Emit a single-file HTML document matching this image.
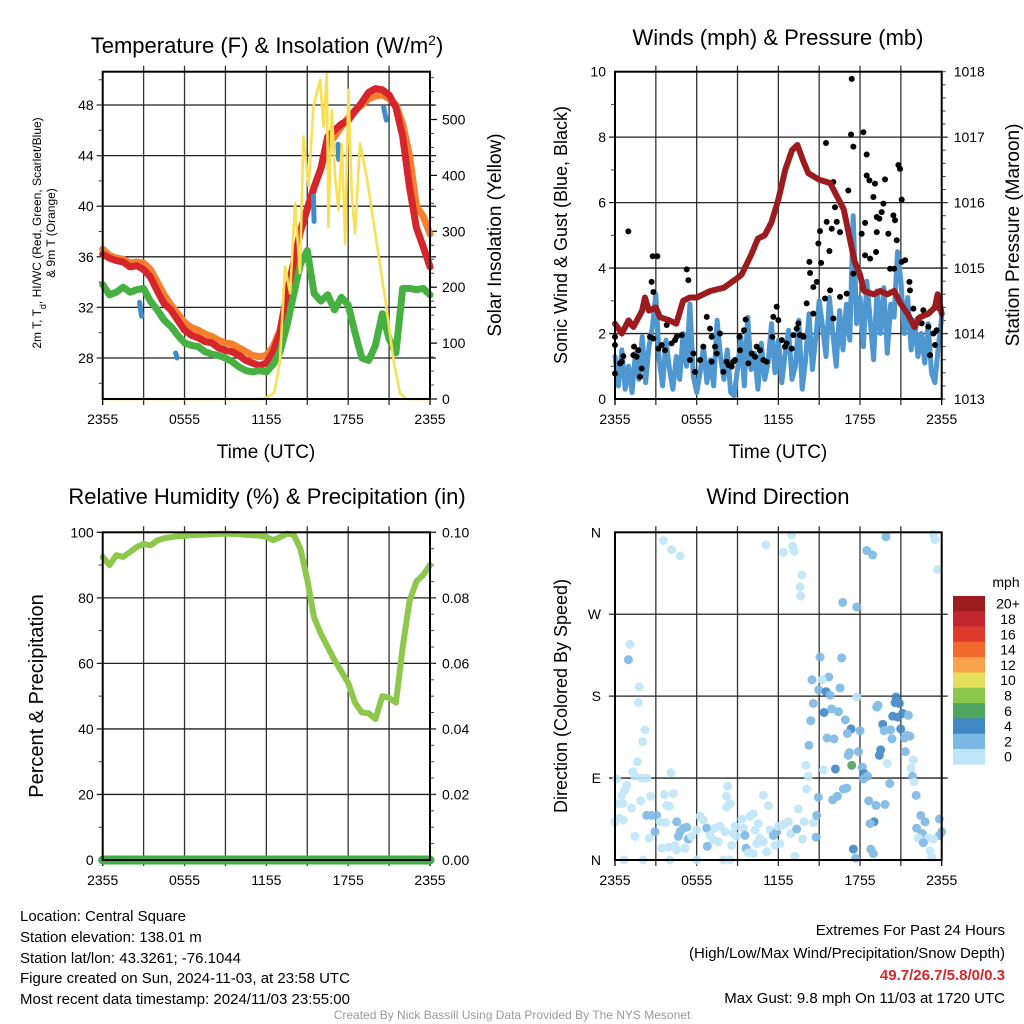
<!DOCTYPE html>
<html><head><meta charset="utf-8"><title>Central Square Meteogram</title>
<style>
html,body{margin:0;padding:0;background:#fff;}
svg{display:block;font-family:"Liberation Sans",Arial,sans-serif;}
</style></head>
<body>
<svg id="chart" width="1024" height="1024" viewBox="0 0 1024 1024" xmlns="http://www.w3.org/2000/svg">
<rect x="0" y="0" width="1024" height="1024" fill="#fff"/>
<text x="267" y="53" font-size="22" text-anchor="middle">Temperature (F) &amp; Insolation (W/m<tspan baseline-shift="super" font-size="14">2</tspan>)</text>
<text x="778" y="45" font-size="22" text-anchor="middle">Winds (mph) &amp; Pressure (mb)</text>
<text x="267" y="504" font-size="22" text-anchor="middle">Relative Humidity (%) &amp; Precipitation (in)</text>
<text x="778" y="504" font-size="22" text-anchor="middle">Wind Direction</text>

<text transform="translate(41,233) rotate(-90)" font-size="12" text-anchor="middle">2m T, T<tspan baseline-shift="sub" font-size="9">d</tspan>, HI/WC (Red, Green, Scarlet/Blue)</text>
<text transform="translate(55,233) rotate(-90)" font-size="12" text-anchor="middle">&amp; 9m T (Orange)</text>
<text transform="translate(501,235) rotate(-90)" font-size="19" text-anchor="middle">Solar Insolation (Yellow)</text>
<text transform="translate(567,235) rotate(-90)" font-size="18" text-anchor="middle">Sonic Wind &amp; Gust (Blue, Black)</text>
<text transform="translate(1019,235) rotate(-90)" font-size="19" text-anchor="middle">Station Pressure (Maroon)</text>
<text transform="translate(43,696) rotate(-90)" font-size="20" text-anchor="middle">Percent &amp; Precipitation</text>
<text transform="translate(567,696) rotate(-90)" font-size="18" text-anchor="middle">Direction (Colored By Speed)</text>
<text x="266" y="458" font-size="19" text-anchor="middle">Time (UTC)</text>
<text x="778" y="458" font-size="19" text-anchor="middle">Time (UTC)</text>

<g font-size="15" fill="#000">
<text x="20" y="921">Location: Central Square</text>
<text x="20" y="942">Station elevation: 138.01 m</text>
<text x="20" y="963">Station lat/lon: 43.3261; -76.1044</text>
<text x="20" y="983">Figure created on Sun, 2024-11-03, at 23:58 UTC</text>
<text x="20" y="1004">Most recent data timestamp: 2024/11/03 23:55:00</text>
</g>
<g font-size="15" text-anchor="end">
<text x="1005" y="935">Extremes For Past 24 Hours</text>
<text x="1005" y="958">(High/Low/Max Wind/Precipitation/Snow Depth)</text>
<text x="1005" y="980" fill="#d62728" font-weight="bold">49.7/26.7/5.8/0/0.3</text>
<text x="1005" y="1003">Max Gust: 9.8 mph On 11/03 at 1720 UTC</text>
</g>
<text x="512" y="1019" font-size="12" fill="#999" text-anchor="middle">Created By Nick Bassill Using Data Provided By The NYS Mesonet</text>
</svg>
<script>
// ---------- DATA ----------
const timeTickLabels = ['2355','0555','1155','1755','2355'];
const tempTickLabels = [28,32,36,40,44,48];
const insolTickLabels = [0,100,200,300,400,500];
const windTickLabels = [0,2,4,6,8,10];
const pressTickLabels = [1013,1014,1015,1016,1017,1018];
const rhTickLabels = [0,20,40,60,80,100];
const precipTickLabels = ['0.00','0.02','0.04','0.06','0.08','0.10'];
const dirTickLabels = ['N','E','S','W','N'];
const speedLegendLabels = ['20+','18','16','14','12','10','8','6','4','2','0'];

const halfHours = [0,0.5,1,1.5,2,2.5,3,3.5,4,4.5,5,5.5,6,6.5,7,7.5,8,8.5,9,9.5,10,10.5,11,11.5,12,12.5,13,13.5,14,14.5,15,15.5,16,16.5,17,17.5,18,18.5,19,19.5,20,20.5,21,21.5,22,22.5,23,23.5,24];
const temp2m = [36.2,35.9,35.7,35.6,35.2,35.3,35.0,34.4,33.3,32.3,31.8,31.0,30.2,29.8,29.6,29.3,29.2,28.8,28.6,28.5,28.2,27.8,27.6,27.4,27.6,28.5,30.0,33.0,35.5,38.0,39.8,41.5,43.0,45.5,46.0,46.5,46.8,47.5,48.2,49.0,49.3,49.2,48.8,47.8,45.5,41.5,38.3,36.8,35.2];
const temp9m = [36.6,36.1,35.9,35.8,35.5,35.6,35.5,35.0,34.0,33.0,32.2,31.5,30.8,30.4,30.2,29.9,29.7,29.4,29.2,29.1,28.8,28.5,28.2,28.1,28.2,28.9,30.2,33.0,35.5,38.0,39.8,41.5,43.0,44.8,45.5,46.3,47.0,47.6,48.0,48.5,48.7,48.8,48.5,48.0,46.5,44.0,40.0,39.2,37.8];
const dewpoint = [33.8,33.0,33.2,33.6,33.2,33.4,33.5,32.5,31.8,31.0,30.5,29.8,29.2,29.0,28.9,28.5,28.3,28.2,28.0,27.7,27.3,27.0,26.9,27.0,26.9,27.5,28.5,30.5,33.0,35.4,36.5,33.1,32.5,33.0,31.8,32.8,32.2,30.0,28.0,27.8,29.0,31.5,29.5,28.4,33.5,33.5,33.4,33.5,33.0];
const windChillStartHour = [2.7,5.35,15.45,17.25,20.6];
const windChillEndHour = [2.85,5.45,15.5,17.3,20.8];
const windChillStart = [32.4,28.4,40.8,44.9,47.8];
const windChillEnd = [31.3,28.0,38.8,43.7,46.8];
const insolHours = [0,11.7,12.2,12.6,13.0,13.37,13.74,14.1,14.47,14.72,15.1,15.45,15.94,16.19,16.43,16.55,16.8,17.04,17.29,17.53,17.78,18.02,18.26,18.5,18.87,19.36,20.1,20.83,21.32,21.8,22.3,24];
const insolValues = [0,0,5,12,70,237,189,350,225,469,380,523,571,487,583,308,517,398,338,457,278,553,368,296,457,398,278,159,70,10,0,0];

const rhValues = [92.5,90,93,92.5,94,95.5,96.5,96,97.5,98.2,98.5,98.8,98.9,99.1,99.2,99.3,99.4,99.5,99.6,99.5,99.4,99.2,99.1,99.0,98.6,97.6,98.5,99.6,99.3,95,85.5,74,69,65,61,57.5,54,48,45,44.8,43,50,49.5,48,65,79,85,87,90];
const precipValues = [0,0,0,0,0,0,0,0,0,0,0,0,0,0,0,0,0,0,0,0,0,0,0,0,0,0,0,0,0,0,0,0,0,0,0,0,0,0,0,0,0,0,0,0,0,0,0,0,0];

const windSpeed = [1.3,0.4,1.5,0.3,1.0,0.2,1.4,0.6,1.9,0.5,1.6,2.2,3.2,
 1.2,0.4,1.8,0.9,0.3,1.3,0.6,2.0,1.0,2.9,0.7,0.2,
 0.8,1.6,0.5,1.2,0.4,2.4,1.3,0.6,1.5,0.2,0.1,0.9,
 1.9,0.4,2.5,0.9,1.4,0.3,1.7,0.6,1.1,2.3,0.8,1.8,
 0.5,1.4,2.1,0.6,1.0,2.4,0.3,1.2,2.6,0.9,1.9,3.0,
 2.2,1.3,3.1,2.0,1.0,2.7,1.5,2.9,1.8,5.6,2.3,3.1,
 1.6,3.6,2.4,1.2,3.3,2.0,3.4,1.4,2.9,2.5,4.5,3.6,
 2.0,3.1,1.5,2.4,1.3,2.0,1.1,2.3,0.8,0.5,1.6,2.5];
const gustHours = [0,0.98,0,0.37,0,0.61,1.22,1.4,1.59,1.96,1.84,2.77,3.11,2.69,2.82,2.57,3.43,3.67,3.8,4.41,4.9,5.27,5.39,5.76,6.25,6.74,6.98,7.1,7.35,7.71,8.2,8.57,8.69,9.14,9.48,9.6,10.04,10.41,10.65,11.14,11.56,11.88,12.0,11.63,12.25,12.61,12.98,13.35,13.59,13.84,14.08,14.28,14.33,14.57,14.82,14.94,15.06,15.14,15.5,15.55,15.75,15.92,16.04,16.16,16.29,16.53,17.14,17.39,17.34,17.51,18.25,18.37,18.49,18.49,18.69,19.1,18.98,19.23,19.42,19.59,19.72,18.12,18.37,18.74,19.18,19.23,19.84,20.45,20.57,20.82,20.94,21.06,20.08,20.7,20.5,21.06,21.63,21.67,21.92,22.04,22.29,22.53,22.65,23.02,23.39,23.51,23.63,23.83,23.14,21.31,20.21,17.51,17.02,16.53,16.04,15.8,15.43,14.57,13.1,13.47,12.49,10.9,10.29,9.8,9.18,8.82,8.33,7.96,7.47,7.1,6.49,5.88,5.51,4.65,4.53,4.16,3.18,2.82,1.71,1.35,0.49];
const gustValues = [1.9,5.12,1.65,1.09,0.78,1.31,2.26,1.6,1.29,0.93,0.68,4.36,4.36,3.58,3.27,1.9,1.65,1.49,2.26,1.8,1.95,3.96,3.63,1.39,1.19,2.51,2.15,1.9,1.6,2.0,1.14,0.99,1.14,1.9,2.1,2.43,1.39,1.6,1.49,1.14,1.9,2.82,2.41,2.51,1.8,1.7,1.54,2.15,1.95,1.9,2.92,4.19,3.85,3.42,3.58,4.75,5.13,4.16,7.82,5.41,4.52,5.2,6.63,5.86,5.41,5.1,6.37,9.78,8.08,7.71,8.15,5.38,7.47,6.83,6.68,6.58,6.17,5.56,5.51,5.71,5.97,5.05,4.39,4.29,4.49,5.1,6.71,5.61,5.46,7.15,7.03,6.09,5.05,4.85,3.98,4.19,3.58,3.32,2.76,2.21,2.46,2.31,2.71,2.21,2.0,1.65,2.1,2.76,1.34,4.24,3.98,3.83,3.22,3.12,2.46,3.32,3.07,2.61,1.95,2.31,1.6,1.19,1.29,1.09,1.49,1.19,1.04,0.83,1.39,1.14,1.6,0.83,1.19,2.51,1.9,1.7,1.54,1.85,1.49,1.34,1.14];
const pressHours = [0,0.5,1,1.35,2,2.2,2.5,3,3.3,4,4.5,5,5.5,6,7,8,9,9.3,10,10.5,11,11.5,12,12.5,13,13.4,13.8,14.2,15,15.8,16.3,16.8,17.2,17.6,18,18.3,19,19.5,20,20.5,21,21.5,22,22.4,23,23.5,23.7,24];
const pressValues = [1014.15,1014.0,1014.2,1014.1,1014.35,1014.55,1014.35,1014.4,1014.25,1014.2,1014.15,1014.5,1014.55,1014.55,1014.65,1014.7,1014.85,1014.9,1015.2,1015.45,1015.5,1015.7,1016.05,1016.5,1016.8,1016.88,1016.65,1016.45,1016.35,1016.3,1016.1,1015.9,1015.5,1015.1,1014.9,1014.65,1014.6,1014.65,1014.6,1014.65,1014.45,1014.3,1014.1,1014.25,1014.3,1014.4,1014.6,1014.3];

const dirHours = [3.55,4.16,4.78,11.07,12.98,13.05,12.37,13.15,13.72,13.59,13.64,18.49,18.93,19.91,23.39,23.51,23.68,16.73,17.76,
 1.1,0.98,1.79,1.71,2.2,2.03,1.64,1.3,4.11,0.12,0.86,0.73,0.49,0.24,0.56,1.22,1.89,2.62,1.96,2.33,1.47,3.62,4.29,3.8,3.99,8.28,8.2,8.45,8.2,10.9,11.27,13.47,14.08,14.2,14.03,
 2.33,2.69,3.06,3.31,2.94,2.52,3.72,4.53,4.78,5.02,5.27,4.65,5.39,3.43,3.92,4.41,4.53,5.14,5.63,6.0,6.25,6.49,6.74,6.98,7.35,7.71,7.22,7.59,6.78,8.08,8.69,8.82,8.94,8.57,9.31,9.43,9.55,9.92,10.16,10.29,10.53,10.65,10.41,9.63,9.8,10.16,10.9,11.14,11.39,11.63,11.88,12.0,12.25,12.49,12.74,12.12,11.76,12.91,13.35,13.89,14.57,13.79,13.23,14.77,14.82,0.66,2.08,4.04,6.0,7.96,8.45,0,0.61,0.32,1.47,
 14.94,15.06,16.65,14.47,15.7,15.21,14.96,15.5,15.8,16.53,14.57,15.36,15.92,16.41,14.38,16.92,17.34,17.07,18.0,17.76,15.58,16.09,14.25,17.22,17.14,17.88,15.31,16.19,17.39,18.17,18.3,18.39,18.56,18.25,17.02,16.78,16.34,15.99,18.64,19.18,19.84,19.03,18.74,17.51,17.68,18.79,18.98,19.32,19.23,20.65,20.57,20.89,20.4,20.77,21.14,21.55,19.67,19.77,20.25,20.99,20.35,21.26,21.43,21.67,19.52,19.42,20.01,21.33,21.92,21.75,21.85,21.97,20.18,22.12,22.46,22.78,23.83,22.16,22.58,24,23.83,22.29,23.02,23.39,22.65,23.14,23.27];
const dirDegrees = [351,341,334,346,357,345,338,339,313,300,290,340,335,355,358,352,319,283,278,
 237,220,190,173,143,130,108,97,96,89,82,77,71,62,62,57,65,70,90,90,92,72,73,60,59,81,70,62,58,71,60,56,78,92,104,
 49,49,49,42,31,24,41,42,31,35,36,26,23,13,14,16,11,13,26,33,48,44,35,27,35,37,22,20,15,31,29,37,26,16,45,35,27,48,51,33,40,24,18,13,8,7,20,9,33,27,31,37,38,40,42,18,16,29,34,42,41,23,4,25,49,0,0,0,0,0,0,42,44,46,26,
 69,223,222,198,201,198,187,185,181,189,172,162,166,163,153,154,144,139,142,179,134,133,126,118,115,119,99,100,104,102,95,92,92,89,79,78,70,66,65,60,61,42,40,12,2,12,7,170,168,179,173,172,158,157,161,159,149,142,143,144,133,134,137,136,121,115,106,119,110,101,92,86,84,71,49,42,45,35,29,31,27,24,24,23,19,10,3];
const dirSpeeds = [1,1,1,1,1,1,1,1,1,1,1,3,3,3,1,1,1,3,3,
 1,3,1,1,1,1,1,1,1,1,1,1,1,1,1,1,1,1,1,1,1,1,1,1,1,1,1,1,1,1,1,1,1,1,1,
 3,3,3,1,3,1,1,3,3,3,3,3,3,1,1,1,1,1,1,1,1,1,3,1,1,1,1,1,3,1,1,1,1,1,1,1,3,1,1,1,1,1,1,3,1,1,1,1,1,3,3,1,1,1,1,1,1,1,3,1,1,1,1,3,3,1,1,1,1,1,1,1,1,1,1,
 3,3,3,3,3,1,3,5,3,3,3,5,3,3,3,3,5,3,3,1,3,3,3,3,3,3,1,5,7,3,5,5,3,3,3,3,3,3,3,3,3,5,3,5,3,3,3,3,3,5,5,5,5,5,5,3,5,3,3,5,3,3,3,3,5,5,1,3,1,1,3,1,3,3,3,3,3,3,3,3,3,1,1,1,3,1,1];

// ---------- RENDER ----------
const NS = 'http://www.w3.org/2000/svg';
const svg = document.getElementById('chart');
function mk(tag, attrs, parent){ const e=document.createElementNS(NS,tag); for(const k in attrs) e.setAttribute(k,attrs[k]); (parent||svg).appendChild(e); return e; }
function tx(str, attrs, parent){ const e=mk('text',attrs,parent); e.textContent=str; return e; }
function lin(d0,d1,r0,r1){ return v => r0+(v-d0)*(r1-r0)/(d1-d0); }

const P1={x0:102.7,x1:430,y0:71.7,y1:399};
const P2={x0:615,x1:941.7,y0:71.7,y1:399};
const P3={x0:102.7,x1:430,y0:532.3,y1:860};
const P4={x0:615,x1:941.7,y0:532.3,y1:860};

function timeAxis(P, name){
  const x=lin(0,24,P.x0,P.x1);
  const g=mk('g',{});
  
  
  for(let h=3;h<24;h+=3){ mk('line',{x1:x(h),x2:x(h),y1:P.y0-6,y2:P.y1+6,stroke:'#333','stroke-width':1.3},g); }
  mk('line',{x1:P.x0,x2:P.x0,y1:P.y1,y2:P.y1+6,stroke:'#000','stroke-width':1.3},g);
  mk('line',{x1:P.x1,x2:P.x1,y1:P.y1,y2:P.y1+6,stroke:'#000','stroke-width':1.3},g);
  const lg=mk('g',{'font-size':14,'text-anchor':'middle'});
  
  
  timeTickLabels.forEach((l,i)=>{ tx(l,{x:x(i*6),y:P.y1+25},lg); });
  return x;
}
function hGrid(P, yFn, vals, g){ vals.forEach(v=>{ mk('line',{x1:P.x0-6,x2:P.x1+6,y1:yFn(v),y2:yFn(v),stroke:'#222','stroke-width':1.3},g); }); }
function leftLabels(P,yFn,vals,labels,name,xOff){
  const g=mk('g',{'font-size':14,'text-anchor':'end'});
  
  
  vals.forEach((v,i)=>{ tx(String(labels[i]),{x:P.x0-(xOff||9),y:yFn(v)+5},g); });
}
function rightLabels(P,yFn,vals,labels,name){
  const g=mk('g',{'font-size':14,'text-anchor':'start'});
  
  
  vals.forEach((v,i)=>{ tx(String(labels[i]),{x:P.x1+12,y:yFn(v)+5},g); });
}
function minorTicks(P,yFn,from,to,step,side){
  for(let v=from; v<=to+1e-9; v+=step){ const y=yFn(v); if(y<P.y0-0.5||y>P.y1+0.5) continue;
    if(side==='r') mk('line',{x1:P.x1,x2:P.x1+4,y1:y,y2:y,stroke:'#444','stroke-width':1});
    else mk('line',{x1:P.x0-4,x2:P.x0,y1:y,y2:y,stroke:'#444','stroke-width':1}); }
}
function border(P,name){ const r=mk('rect',{x:P.x0,y:P.y0,width:P.x1-P.x0,height:P.y1-P.y0,fill:'none',stroke:'#000','stroke-width':2});
  
   }
function path(xs,ys,xFn,yFn,attrs,name){
  let d=''; xs.forEach((t,i)=>{ d+=(i?'L':'M')+xFn(t).toFixed(1)+','+yFn(ys[i]).toFixed(1); });
  const p=mk('path',Object.assign({d:d,fill:'none','stroke-linejoin':'round','stroke-linecap':'round'},attrs));
  
  
  return p;
}

// Panel 1
{
  const x=timeAxis(P1,'temperature');
  const yT=lin(28,48,358,105), yW=lin(0,500,399,119.5);
  const g=mk('g',{}); hGrid(P1,yT,tempTickLabels,g);
  leftLabels(P1,yT,tempTickLabels,tempTickLabels,'temperature-y-tick-labels');
  rightLabels(P1,yW,insolTickLabels,insolTickLabels,'insolation-y-tick-labels');
  minorTicks(P1,yT,26,50,2,'l'); minorTicks(P1,yW,0,575,25,'r');
  insolTickLabels.forEach(v=>mk('line',{x1:P1.x1,x2:P1.x1+7,y1:yW(v),y2:yW(v),stroke:'#000','stroke-width':1.2}));
  path(halfHours,temp9m,x,yT,{stroke:'#f5812f','stroke-width':7},'temperature-9m-line');
  path(halfHours,temp2m,x,yT,{stroke:'#d7262b','stroke-width':7},'temperature-2m-line');
  path(halfHours,dewpoint,x,yT,{stroke:'#46b040','stroke-width':7},'dewpoint-line');
  windChillStartHour.forEach((h,i)=>{ const l=mk('line',{x1:x(h),x2:x(windChillEndHour[i]),y1:yT(windChillStart[i]),y2:yT(windChillEnd[i]),stroke:'#3e8ccb','stroke-width':5,'stroke-linecap':'round'});
    
     });
  path(insolHours,insolValues,x,yW,{stroke:'#f8df55','stroke-width':2.6},'insolation-line');
  border(P1,'temperature-plot-area');
}
// Panel 2
{
  const x=timeAxis(P2,'winds');
  const yV=lin(0,10,399,71.7), yP=lin(1013,1018,399,71.7);
  const g=mk('g',{}); hGrid(P2,yV,[2,4,6,8],g);
  leftLabels(P2,yV,windTickLabels,windTickLabels,'wind-y-tick-labels');
  rightLabels(P2,yP,pressTickLabels,pressTickLabels,'pressure-y-tick-labels');
  minorTicks(P2,yV,1,9,2,'l'); minorTicks(P2,yP,1013,1018,0.2,'r');
  const wh=windSpeed.map((v,i)=>i*0.25);
  path(wh,windSpeed,x,yV,{stroke:'#4f97d0','stroke-width':5},'sonic-wind-line');
  const gg=mk('g',{fill:'#000'});
  
  
  gustHours.forEach((h,i)=>{ const c=mk('circle',{cx:x(h),cy:yV(gustValues[i]),r:3},gg);
    
     });
  path(pressHours,pressValues,x,yP,{stroke:'#9b1b1e','stroke-width':6},'pressure-line');
  border(P2,'winds-plot-area');
}
// Panel 3
{
  const x=timeAxis(P3,'humidity');
  const yR=lin(0,100,860,532.3), yPr=lin(0,0.10,860,532.3);
  const g=mk('g',{}); hGrid(P3,yR,[20,40,60,80,100],g);
  leftLabels(P3,yR,rhTickLabels,rhTickLabels,'humidity-y-tick-labels');
  rightLabels(P3,yR,rhTickLabels,precipTickLabels,'precip-y-tick-labels');
  minorTicks(P3,yR,10,90,20,'l'); minorTicks(P3,yR,0,100,5,'r');
  path(halfHours,rhValues,x,yR,{stroke:'#8dc84c','stroke-width':6},'relative-humidity-line');
  path(halfHours,precipValues,x,yPr,{stroke:'#3fae49','stroke-width':9},'precipitation-line');
  border(P3,'humidity-plot-area');
}
// Panel 4
{
  const x=timeAxis(P4,'direction');
  const yD=lin(0,360,860,532.3);
  const g=mk('g',{}); hGrid(P4,yD,[90,180,270],g);
  leftLabels(P4,yD,[0,90,180,270,360],dirTickLabels,'direction-y-tick-labels',14);
  const bins=[0,2,4,6,8,10,12,14,16,18,20];
  const cols=['#bfe6f8','#7db8e4','#3f88c5','#4fa65f','#8cc84b','#e6df5a','#f9a44a','#f26a2e','#e03a2f','#c1272d','#9b1b1e'];
  const colorFor=s=>{ let k=0; bins.forEach((b,i)=>{ if(s>=b) k=i; }); return cols[k]; };
  const dg=mk('g',{opacity:0.9});
  
  
  dirHours.forEach((h,i)=>{ const c=mk('circle',{cx:x(h),cy:yD(dirDegrees[i]),r:4.5,fill:colorFor(dirSpeeds[i])},dg);
    
     });
  border(P4,'direction-plot-area');
  // colorbar
  const cb=mk('g',{});
  
  
  tx('mph',{x:1006,y:587,'font-size':14,'text-anchor':'middle'},cb);
  const top=596, h=15.3;
  speedLegendLabels.forEach((l,i)=>{
    const c=cols[cols.length-1-i];
    mk('rect',{x:953,y:top+i*h,width:32,height:h+0.3,fill:c},cb);
    tx(l,{x:1008,y:top+i*h+h/2+5,'font-size':14,'text-anchor':'middle'},cb);
  });
}
</script>
</body></html>
